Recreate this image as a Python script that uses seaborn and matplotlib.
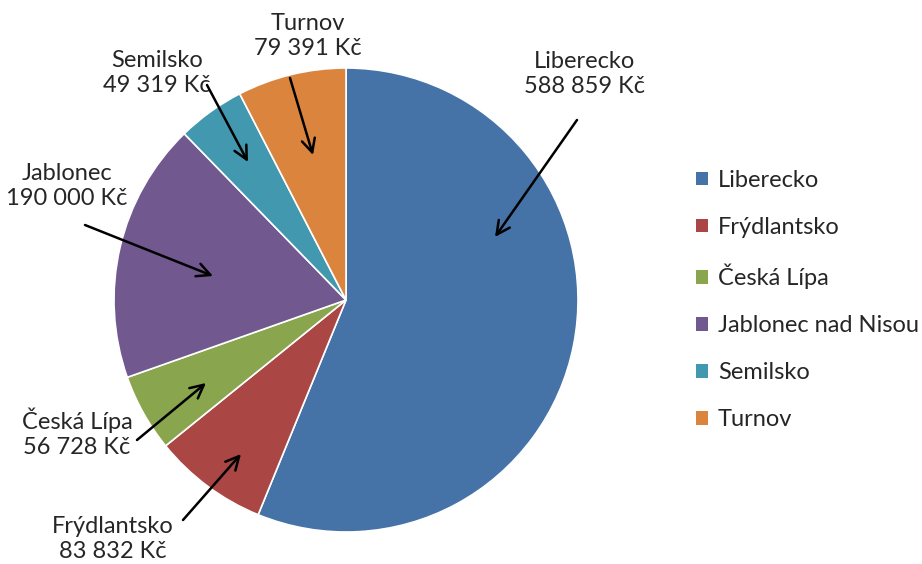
import matplotlib.pyplot as plt
import seaborn as sns
from matplotlib.patches import Patch

# data
regions = ['Liberecko', 'Frýdlantsko', 'Česká Lípa', 'Jablonec nad Nisou', 'Semilsko', 'Turnov']
amounts = [588859, 83832, 56728, 190000, 49319, 79391]
short_names = ['Liberecko', 'Frýdlantsko', 'Česká Lípa', 'Jablonec', 'Semilsko', 'Turnov']
colors = ['#4572A7', '#AA4643', '#89A54E', '#71588F', '#4198AF', '#DB843D']

sns.set_theme(style='white')
plt.rcParams['font.family'] = ['Lato', 'DejaVu Sans']

W, H = 922, 564
fig = plt.figure(figsize=(W / 100, H / 100), dpi=100)

# pie centre (346, 300) px, radius 232 px
cx, cy, r = 346, 300, 232
ax = fig.add_axes([(cx - r) / W, (H - cy - r) / H, 2 * r / W, 2 * r / H])
ax.pie(amounts, colors=colors, startangle=90, counterclock=False,
       wedgeprops=dict(edgecolor='white', linewidth=1.2))
ax.set_xlim(-1, 1)
ax.set_ylim(-1, 1)
ax.set_aspect('equal')


def px(x, y):
    # pixel position -> pie data coords
    return ((x - cx) / r, (cy - y) / r)


def fmt(v):
    return f'{v:,}'.replace(',', ' ') + ' Kč'


# label text centre, arrow tail, arrow head (pixels)
label_pos = {
    'Liberecko': ((585, 74), (577, 120), (495, 237)),
    'Frýdlantsko': ((113, 539), (183, 520), (241, 454)),
    'Česká Lípa': ((77, 433), (137, 440), (206, 383)),
    'Jablonec': ((67, 186), (85, 225), (213, 276)),
    'Semilsko': ((157, 73), (207, 85), (248, 162)),
    'Turnov': ((308, 36), (290, 78), (313, 155)),
}

for name, val in zip(short_names, amounts):
    (tx, ty), tail, head = label_pos[name]
    ax.text(*px(tx, ty), f'{name}\n{fmt(val)}', ha='center', va='center',
            fontsize=17, linespacing=1.25, clip_on=False)
    ax.annotate('', xy=px(*head), xytext=px(*tail),
                arrowprops=dict(arrowstyle='->,head_length=0.8,head_width=0.4',
                                color='black', lw=1.8, shrinkA=0, shrinkB=0),
                annotation_clip=False)

handles = [Patch(facecolor=c, edgecolor='none') for c in colors]
fig.legend(handles, regions, loc='center left', bbox_to_anchor=(684 / W, 1 - 300 / H),
           frameon=False, fontsize=17, handlelength=0.52, handleheight=0.52,
           handletextpad=0.42, labelspacing=1.1, borderpad=0)

fig.savefig('out.png', dpi=100)
